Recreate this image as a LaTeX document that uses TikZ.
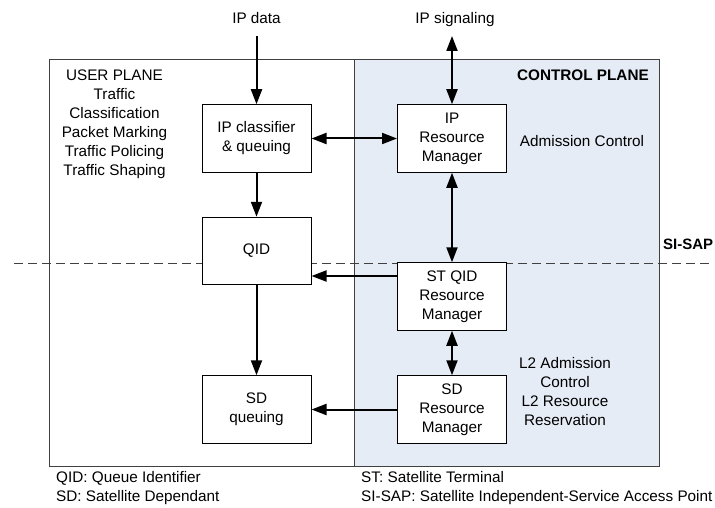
\documentclass[tikz,border=0pt]{standalone}
\usepackage{fontspec}
\setmainfont{Liberation Sans}
\usetikzlibrary{arrows.meta}
\definecolor{cpfill}{RGB}{230,236,246}
\definecolor{plborder}{RGB}{64,64,64}
\tikzset{
  every node/.style={font=\fontsize{15.3}{19}\selectfont, inner sep=0pt},
  blk/.style={draw=black, line width=1pt, fill=white, minimum width=109pt, minimum height=67.5pt, align=center},
  onearrow/.style={line width=2pt, -{Triangle[length=15pt,width=11pt]}},
  twoarrow/.style={line width=2pt, {Triangle[length=15pt,width=11pt]}-{Triangle[length=15pt,width=11pt]}},
  lbl/.style={align=center},
}
\begin{document}
\begin{tikzpicture}[x=1pt,y=-1pt]
\useasboundingbox (0,0) rectangle (715,508);
% planes
\draw[plborder, line width=1pt] (49,60) rectangle (354,466);
\filldraw[fill=cpfill, draw=plborder, line width=1pt] (354,60) rectangle (659,466);
% SI-SAP dashed line
\coordinate (dl) at (14,263);
\coordinate (dr) at (712,263);
\draw[plborder, line width=1pt, dash pattern=on 9pt off 5pt] (dl) -- (dr);
% blocks
\node[blk] (ipc) at (256.5,138.5) {IP classifier\\\& queuing};
\node[blk] (qid) at (256.5,251) {QID};
\node[blk] (sdq) at (256.5,409.5) {SD\\queuing};
\node[blk] (iprm) at (452,138.5) {IP\\Resource\\Manager};
\node[blk] (stqid) at (452,296.5) {ST QID\\Resource\\Manager};
\node[blk] (sdrm) at (452,409.5) {SD\\Resource\\Manager};
% labels
\node[anchor=base] (ipdata) at (256.5,24) {IP data};
\node[anchor=base] (ipsig) at (455,24) {IP signaling};
\coordinate (ipdataend) at (256.5,36);
\coordinate (ipsigend) at (452,36);
\node[anchor=base east, font=\fontsize{15.3}{19}\selectfont\bfseries] (cplane) at (649,81) {CONTROL PLANE};
\node[anchor=base west, font=\fontsize{15}{19}\selectfont\bfseries] (sisap) at (663,249.3) {SI-SAP};
\node[anchor=base] (adm) at (582,146.5) {Admission Control};
\node[lbl, anchor=north] (uplane) at (114.5,69.8) {USER PLANE\\Traffic\\Classification\\Packet Marking\\Traffic Policing\\Traffic Shaping};
\node[lbl, anchor=north] (l2) at (565,357) {L2 Admission\\Control\\L2 Resource\\Reservation};
\node[anchor=base west] (fn1) at (56,482) {QID: Queue Identifier};
\node[anchor=base west] (fn2) at (56,501) {SD: Satellite Dependant};
\node[anchor=base west] (fn3) at (361,482) {ST: Satellite Terminal};
\node[anchor=base west] (fn4) at (361,501) {SI-SAP: Satellite Independent-Service Access Point};
% connectors
\draw[onearrow] (ipdataend) -- (ipc.north);
\draw[twoarrow] (ipsigend) -- (iprm.north);
\draw[twoarrow] (ipc.east) -- (iprm.west);
\draw[onearrow] (ipc.south) -- (qid.north);
\draw[twoarrow] (iprm.south) -- (stqid.north);
\draw[onearrow] ([yshift=20.5pt]stqid.west) -- ([yshift=-25pt]qid.east);
\draw[onearrow] (qid.south) -- (sdq.north);
\draw[twoarrow] (stqid.south) -- (sdrm.north);
\draw[onearrow] (sdrm.west) -- (sdq.east);
\end{tikzpicture}
\end{document}
